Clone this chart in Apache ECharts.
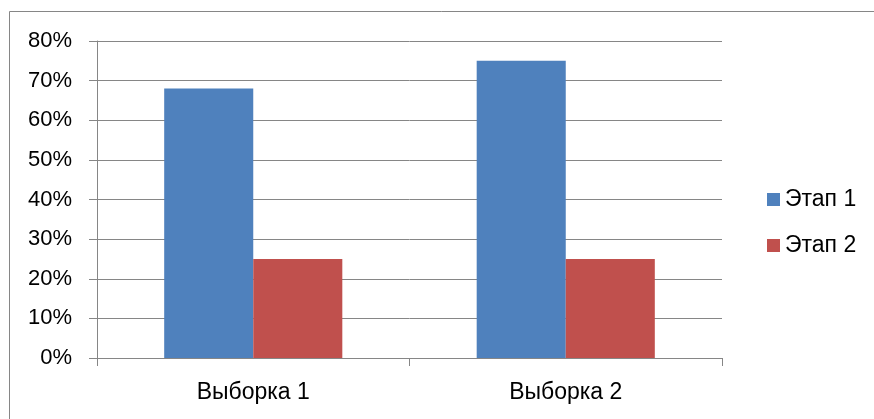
<!DOCTYPE html>
<html>
<head>
<meta charset="utf-8">
<script src="https://cdn.jsdelivr.net/npm/echarts@6/dist/echarts.min.js"></script>
<style>
  html, body { margin: 0; padding: 0; background: #fff; }
  #chart { width: 874px; height: 419px; }
</style>
</head>
<body>
<div id="chart"></div>
<script>
  // chart data
  var categories = ['Выборка 1', 'Выборка 2'];
  var seriesNames = ['Этап 1', 'Этап 2'];
  var stage1 = [68, 75];
  var stage2 = [25, 25];

  var gridColor = '#868686';
  var font = '"Liberation Sans", Arial, sans-serif';

  var chart = echarts.init(document.getElementById('chart'));

  chart.setOption({
    animation: false,
    backgroundColor: '#fff',
    textStyle: { fontFamily: font },
    graphic: [{
      type: 'polyline',
      shape: { points: [[9.5, 419], [9.5, 11.5], [874, 11.5]] },
      style: { stroke: gridColor, lineWidth: 1, fill: null }
    }],
    grid: { left: 97, right: 152, top: 41, bottom: 61 },
    legend: {
      orient: 'vertical',
      left: 762,
      top: 183,
      itemWidth: 13,
      itemHeight: 13,
      itemGap: 23,
      icon: 'rect',
      data: seriesNames,
      textStyle: { fontSize: 23, color: '#000', fontFamily: font }
    },
    xAxis: {
      type: 'category',
      data: categories,
      axisLine: { lineStyle: { color: gridColor, width: 1 } },
      axisTick: { show: true, length: 8, lineStyle: { color: gridColor } },
      axisLabel: { fontSize: 23, color: '#000', margin: 23, fontFamily: font },
      splitLine: { show: false }
    },
    yAxis: {
      type: 'value',
      min: 0,
      max: 80,
      interval: 10,
      axisLine: { show: true, lineStyle: { color: gridColor, width: 1 } },
      axisTick: { show: true, length: 8, lineStyle: { color: gridColor } },
      axisLabel: { fontSize: 22, color: '#000', margin: 25, formatter: '{value}%', fontFamily: font },
      splitLine: { lineStyle: { color: gridColor, width: 1 } }
    },
    series: [{
      name: seriesNames[0],
      type: 'bar',
      data: stage1,
      barGap: '0%',
      barCategoryGap: '43%',
      itemStyle: { color: '#4F81BD' }
    }, {
      name: seriesNames[1],
      type: 'bar',
      data: stage2,
      barGap: '0%',
      barCategoryGap: '43%',
      itemStyle: { color: '#C0504D' }
    }]
  });
</script>
</body>
</html>
